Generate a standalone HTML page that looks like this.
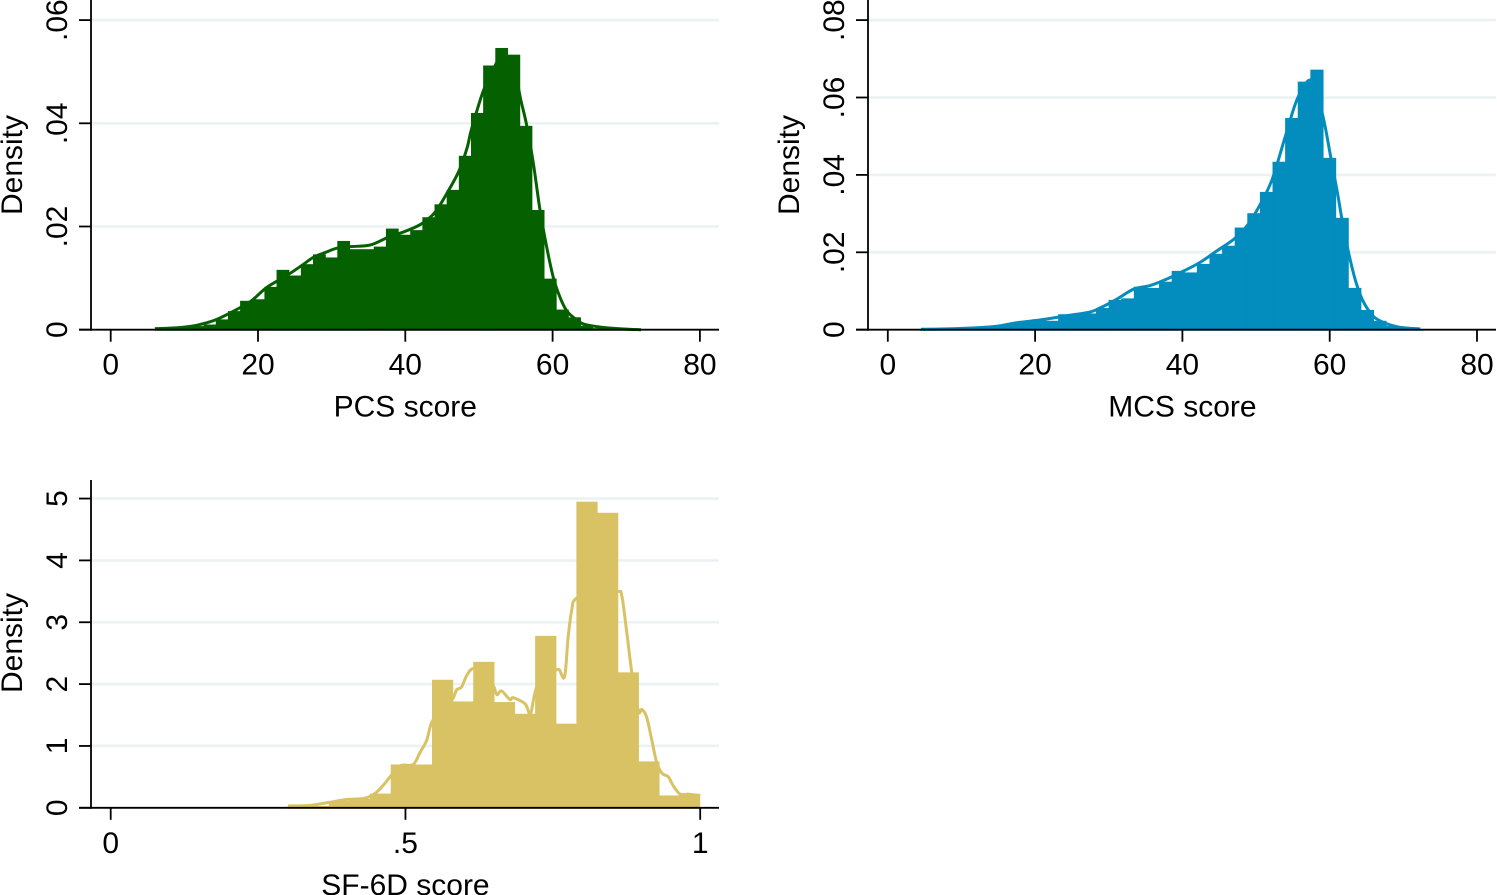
<!DOCTYPE html>
<html lang="en">
<head>
<meta charset="utf-8">
<title>Density histograms of PCS, MCS and SF-6D scores</title>
<style>
html,body{margin:0;padding:0;background:#fff;}
svg{display:block;}
text{font-family:"Liberation Sans",Arial,sans-serif;font-size:30px;fill:#000;}
</style>
</head>
<body>
<svg id="figure" xmlns="http://www.w3.org/2000/svg" width="1497" height="895" viewBox="0 0 1497 895">
  <rect x="0" y="0" width="1497" height="895" fill="#ffffff"/>
  <g id="panel-pcs"></g>
  <g id="panel-mcs"></g>
  <g id="panel-sf6d"></g>
</svg>
<script>
/* ---------- PCS data ---------- */
const pcsBinStart = 6.02;
const pcsBinWidth = 1.65;
const pcsDensity = [.0002,.0003,.0005,.0007,.001,.002,.0036,.0056,.0059,.0083,.0116,.0105,.0127,.0146,.014,.0172,.0156,.0156,.0161,.0196,.0184,.0193,.0218,.0243,.0271,.0337,.042,.0512,.0546,.0533,.0395,.0232,.0099,.0039,.0024,.0008,.0003,.0002,.0001,.0001];
const pcsKdeX = [6,8,10,12.1,14.4,17.6,19.2,21.2,23.9,25.9,27.5,29.2,30.7,32.5,35.2,37.5,39.3,41.1,42.5,44,45.6,47.3,48.4,49,50.6,52.2,52.9,54.7,55.7,56.5,57.4,58.3,59.2,60.1,61,61.9,62.9,64.2,66.5,70,72];
const pcsKdeY = [.0002,.0003,.0005,.001,.002,.0043,.0057,.0082,.0105,.0124,.014,.015,.0158,.0161,.0164,.0178,.0187,.0197,.0208,.0227,.0263,.0308,.0353,.0389,.0463,.0512,.0522,.0505,.0444,.0395,.0321,.0231,.016,.0101,.0063,.0037,.0023,.0011,.0005,.0001,0];
const pcsXTicks = [0,20,40,60,80];
const pcsXTickLabels = ["0","20","40","60","80"];
const pcsYTicks = [0,.02,.04,.06];
const pcsYTickLabels = ["0",".02",".04",".06"];

/* ---------- MCS data ---------- */
const mcsBinStart = 4.3;
const mcsBinWidth = 1.712;
const mcsDensity = [.0002,.0002,.0003,.0004,.0005,.0007,.001,.0017,.0019,.0027,.0023,.004,.004,.0042,.0056,.0077,.0081,.0111,.0108,.0124,.0152,.0148,.017,.0196,.0217,.0264,.0301,.0356,.0434,.0547,.0641,.0672,.0444,.0289,.0108,.0051,.0023,.001,.0006,.0001];
const mcsKdeX = [4.5,8,11,13,15.2,17.5,19.8,22,24.3,27.5,28.8,31.1,33.4,35.6,37.9,40.2,42.4,44.7,47,48.8,50.6,52.2,54,55.6,57.4,58.7,59.4,60.1,61,61.7,62.6,63.5,64.4,65.3,66.2,67.8,69.6,72.3];
const mcsKdeY = [.0001,.0002,.0004,.0006,.001,.0018,.0023,.0029,.0036,.0046,.0056,.0079,.0105,.0114,.0131,.0152,.0174,.0204,.0234,.0269,.0325,.0389,.0501,.0596,.0645,.0579,.0523,.045,.0359,.0282,.0196,.0127,.0079,.0049,.003,.0015,.0006,.0002];
const mcsXTicks = [0,20,40,60,80];
const mcsXTickLabels = ["0","20","40","60","80"];
const mcsYTicks = [0,.02,.04,.06,.08];
const mcsYTickLabels = ["0",".02",".04",".06",".08"];

/* ---------- SF-6D data ---------- */
const sfBinStart = 0.3;
const sfBinWidth = 0.035;
const sfDensity = [.03,.03,.11,.145,.23,.7,.7,2.07,1.72,2.36,1.71,1.52,2.78,1.36,4.95,4.77,2.19,.75,.2,.215];
const sfKdeX = [.301,.338,.372,.4,.429,.448,.462,.474,.491,.513,.525,.536,.545,.564,.58,.587,.595,.604,.614,.632,.649,.655,.663,.677,.683,.703,.712,.72,.734,.755,.761,.77,.776,.782,.789,.824,.86,.867,.875,.884,.895,.901,.909,.918,.926,.935,.946,.954,.966,.98,1];
const sfKdeY = [.03,.04,.09,.135,.15,.23,.36,.5,.68,.7,.9,1.09,1.39,1.63,1.76,1.91,1.95,2.14,2.25,2.22,1.98,1.83,1.89,1.75,1.78,1.68,1.52,1.87,2.22,2.23,2.23,2.12,2.76,3.19,3.38,3.51,3.5,3.43,2.87,2.19,1.57,1.59,1.47,1.09,.74,.56,.5,.36,.22,.22,.2];
const sfXTicks = [0,.5,1];
const sfXTickLabels = ["0",".5","1"];
const sfYTicks = [0,1,2,3,4,5];
const sfYTickLabels = ["0","1","2","3","4","5"];

const SVG_NS = "http://www.w3.org/2000/svg";

function make(parent, tag, props) {
  const el = document.createElementNS(SVG_NS, tag);
  for (const key in props) {
    el.setAttribute(key, props[key]);
  }
  parent.appendChild(el);
  return el;
}

function smoothPath(xs, ys, xScale, yScale) {
  const p = xs.map(function (v, i) { return [xScale(v), yScale(ys[i])]; });
  let d = "M" + p[0][0].toFixed(2) + " " + p[0][1].toFixed(2);
  for (let i = 0; i < p.length - 1; i++) {
    const a = p[Math.max(i - 1, 0)], b = p[i], c = p[i + 1], e = p[Math.min(i + 2, p.length - 1)];
    const c1x = b[0] + (c[0] - a[0]) / 6, c1y = b[1] + (c[1] - a[1]) / 6;
    const c2x = c[0] - (e[0] - b[0]) / 6, c2y = c[1] - (e[1] - b[1]) / 6;
    d += "C" + c1x.toFixed(2) + " " + c1y.toFixed(2) + " " + c2x.toFixed(2) + " " + c2y.toFixed(2) + " " + c[0].toFixed(2) + " " + c[1].toFixed(2);
  }
  return d;
}

function drawPanel(cfg) {
  const g = document.getElementById(cfg.groupId);
  const xScale = function (v) { return cfg.xZero + v * cfg.xPerUnit; };
  const yScale = function (v) { return cfg.yZero - v * cfg.yPerUnit; };

  /* gridlines */
  cfg.yTicks.forEach(function (t) {
    if (t === 0) return;
    const grid = make(g, "line", { x1: cfg.axisX + 1, x2: cfg.axisRight, y1: yScale(t), y2: yScale(t), stroke: "#eaf2f3", "stroke-width": 2.6 });
    
    
  });

  /* density curve */
  const curve = make(g, "path", { d: smoothPath(cfg.kdeX, cfg.kdeY, xScale, yScale), fill: "none", stroke: cfg.color, "stroke-width": 3, "stroke-linejoin": "round" });
  
  

  /* histogram bars: each overlaps its neighbour slightly so no seams show */
  cfg.density.forEach(function (v, i) {
    const left = xScale(cfg.binStart + i * cfg.binWidth);
    const right = xScale(cfg.binStart + (i + 1) * cfg.binWidth);
    const overlap = i < cfg.density.length - 1 ? 0.6 : 0;
    const bar = make(g, "rect", { x: left, y: yScale(v), width: right - left + overlap, height: cfg.yZero - yScale(v) + 1, fill: cfg.color });
    
    
  });

  /* axes */
  const yAxis = make(g, "line", { x1: cfg.axisX, x2: cfg.axisX, y1: cfg.axisTop, y2: cfg.yZero + 1, stroke: "#000", "stroke-width": 1.8 });
  
  
  const xAxis = make(g, "line", { x1: cfg.axisX - 12, x2: cfg.axisRight, y1: cfg.yZero, y2: cfg.yZero, stroke: "#000", "stroke-width": 1.8 });
  
  

  /* x ticks */
  cfg.xTicks.forEach(function (t, i) {
    const tick = make(g, "line", { x1: xScale(t), x2: xScale(t), y1: cfg.yZero, y2: cfg.yZero + 12, stroke: "#000", "stroke-width": 1.8 });
    
    
    const label = make(g, "text", { x: xScale(t), y: cfg.yZero + 45, "text-anchor": "middle" });
    label.textContent = cfg.xTickLabels[i];
    
    
  });

  /* y ticks */
  cfg.yTicks.forEach(function (t, i) {
    const tick = make(g, "line", { x1: cfg.axisX - 12, x2: cfg.axisX, y1: yScale(t), y2: yScale(t), stroke: "#000", "stroke-width": 1.8 });
    
    
    const lx = cfg.axisX - 24;
    const label = make(g, "text", { x: lx, y: yScale(t), "text-anchor": "middle", transform: "rotate(-90 " + lx + " " + yScale(t) + ")" });
    label.textContent = cfg.yTickLabels[i];
    
    
  });

  /* axis titles */
  const xTitle = make(g, "text", { x: xScale(cfg.xTitleAt), y: cfg.yZero + 87, "text-anchor": "middle" });
  xTitle.textContent = cfg.xTitle;
  
  
  const tx = cfg.axisX - 69;
  const yTitle = make(g, "text", { x: tx, y: cfg.yTitleY, "text-anchor": "middle", transform: "rotate(-90 " + tx + " " + cfg.yTitleY + ")" });
  yTitle.textContent = "Density";
  
  
}

drawPanel({
  groupId: "panel-pcs", color: "#056000",
  xZero: 110.7, xPerUnit: 7.365, yZero: 329.7, yPerUnit: 5160,
  axisX: 91, axisRight: 719, axisTop: 0, yTitleY: 165,
  binStart: pcsBinStart, binWidth: pcsBinWidth, density: pcsDensity,
  kdeX: pcsKdeX, kdeY: pcsKdeY,
  xTicks: pcsXTicks, xTickLabels: pcsXTickLabels, yTicks: pcsYTicks, yTickLabels: pcsYTickLabels,
  xTitle: "PCS score", xTitleAt: 40
});

drawPanel({
  groupId: "panel-mcs", color: "#028dbe",
  xZero: 887.8, xPerUnit: 7.365, yZero: 329.7, yPerUnit: 3870,
  axisX: 868, axisRight: 1496, axisTop: 0, yTitleY: 165,
  binStart: mcsBinStart, binWidth: mcsBinWidth, density: mcsDensity,
  kdeX: mcsKdeX, kdeY: mcsKdeY,
  xTicks: mcsXTicks, xTickLabels: mcsXTickLabels, yTicks: mcsYTicks, yTickLabels: mcsYTickLabels,
  xTitle: "MCS score", xTitleAt: 40
});

drawPanel({
  groupId: "panel-sf6d", color: "#d9c264",
  xZero: 110.7, xPerUnit: 589.5, yZero: 807.8, yPerUnit: 61.85,
  axisX: 91, axisRight: 719, axisTop: 480, yTitleY: 643,
  binStart: sfBinStart, binWidth: sfBinWidth, density: sfDensity,
  kdeX: sfKdeX, kdeY: sfKdeY,
  xTicks: sfXTicks, xTickLabels: sfXTickLabels, yTicks: sfYTicks, yTickLabels: sfYTickLabels,
  xTitle: "SF-6D score", xTitleAt: 0.5
});
</script>
</body>
</html>
